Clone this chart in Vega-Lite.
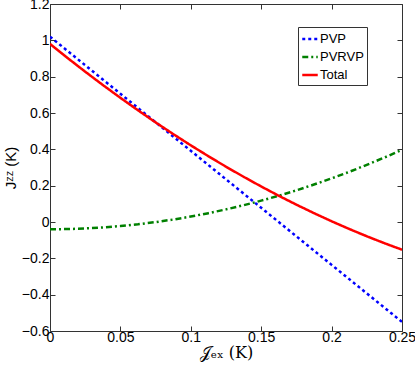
{
  "$schema": "https://vega.github.io/schema/vega-lite/v6.json",
  "width": 352,
  "height": 327,
  "autosize": "none",
  "padding": {"left": 50, "top": 4, "right": 13, "bottom": 34},
  "background": "white",
  "config": {
    "view": {"stroke": "#333333", "strokeWidth": 1},
    "font": "Liberation Sans",
    "axis": {"grid": false, "domain": false, "tickColor": "#333333", "labelColor": "black", "labelFont": "Liberation Sans", "labelFontSize": 14, "titleFontWeight": "normal", "titleColor": "black", "tickSize": -5}
  },
  "data": {"values": [
    {"x": 0, "s": "PVP", "y": 1.02}, {"x": 0, "s": "PVRVP", "y": -0.04}, {"x": 0, "s": "Total", "y": 0.98},
    {"x": 0.0125, "s": "PVP", "y": 0.9415}, {"x": 0.0125, "s": "PVRVP", "y": -0.0389}, {"x": 0.0125, "s": "Total", "y": 0.9026},
    {"x": 0.025, "s": "PVP", "y": 0.863}, {"x": 0.025, "s": "PVRVP", "y": -0.0356}, {"x": 0.025, "s": "Total", "y": 0.8274},
    {"x": 0.0375, "s": "PVP", "y": 0.7845}, {"x": 0.0375, "s": "PVRVP", "y": -0.0302}, {"x": 0.0375, "s": "Total", "y": 0.7543},
    {"x": 0.05, "s": "PVP", "y": 0.706}, {"x": 0.05, "s": "PVRVP", "y": -0.0225}, {"x": 0.05, "s": "Total", "y": 0.6835},
    {"x": 0.0625, "s": "PVP", "y": 0.6275}, {"x": 0.0625, "s": "PVRVP", "y": -0.0127}, {"x": 0.0625, "s": "Total", "y": 0.6148},
    {"x": 0.075, "s": "PVP", "y": 0.549}, {"x": 0.075, "s": "PVRVP", "y": -0.0006}, {"x": 0.075, "s": "Total", "y": 0.5484},
    {"x": 0.0875, "s": "PVP", "y": 0.4705}, {"x": 0.0875, "s": "PVRVP", "y": 0.0136}, {"x": 0.0875, "s": "Total", "y": 0.4841},
    {"x": 0.1, "s": "PVP", "y": 0.392}, {"x": 0.1, "s": "PVRVP", "y": 0.03}, {"x": 0.1, "s": "Total", "y": 0.422},
    {"x": 0.1125, "s": "PVP", "y": 0.3135}, {"x": 0.1125, "s": "PVRVP", "y": 0.0486}, {"x": 0.1125, "s": "Total", "y": 0.3621},
    {"x": 0.125, "s": "PVP", "y": 0.235}, {"x": 0.125, "s": "PVRVP", "y": 0.0694}, {"x": 0.125, "s": "Total", "y": 0.3044},
    {"x": 0.1375, "s": "PVP", "y": 0.1565}, {"x": 0.1375, "s": "PVRVP", "y": 0.0923}, {"x": 0.1375, "s": "Total", "y": 0.2488},
    {"x": 0.15, "s": "PVP", "y": 0.078}, {"x": 0.15, "s": "PVRVP", "y": 0.1175}, {"x": 0.15, "s": "Total", "y": 0.1955},
    {"x": 0.1625, "s": "PVP", "y": -0.0005}, {"x": 0.1625, "s": "PVRVP", "y": 0.1448}, {"x": 0.1625, "s": "Total", "y": 0.1443},
    {"x": 0.175, "s": "PVP", "y": -0.079}, {"x": 0.175, "s": "PVRVP", "y": 0.1744}, {"x": 0.175, "s": "Total", "y": 0.0954},
    {"x": 0.1875, "s": "PVP", "y": -0.1575}, {"x": 0.1875, "s": "PVRVP", "y": 0.2061}, {"x": 0.1875, "s": "Total", "y": 0.0486},
    {"x": 0.2, "s": "PVP", "y": -0.236}, {"x": 0.2, "s": "PVRVP", "y": 0.24}, {"x": 0.2, "s": "Total", "y": 0.004},
    {"x": 0.2125, "s": "PVP", "y": -0.3145}, {"x": 0.2125, "s": "PVRVP", "y": 0.2761}, {"x": 0.2125, "s": "Total", "y": -0.0384},
    {"x": 0.225, "s": "PVP", "y": -0.393}, {"x": 0.225, "s": "PVRVP", "y": 0.3144}, {"x": 0.225, "s": "Total", "y": -0.0786},
    {"x": 0.2375, "s": "PVP", "y": -0.4715}, {"x": 0.2375, "s": "PVRVP", "y": 0.3548}, {"x": 0.2375, "s": "Total", "y": -0.1167},
    {"x": 0.25, "s": "PVP", "y": -0.55}, {"x": 0.25, "s": "PVRVP", "y": 0.3975}, {"x": 0.25, "s": "Total", "y": -0.1525}
  ]},
  "layer": [
    {
      "mark": {"type": "line", "strokeWidth": 2.5, "clip": true},
      "encoding": {
        "x": {"field": "x", "type": "quantitative", "scale": {"domain": [0, 0.25], "nice": false, "zero": false},
          "axis": {"values": [0, 0.05, 0.1, 0.15, 0.2, 0.25], "format": "~g", "labelPadding": 4, "labelFlush": false, "title": "𝒥ₑₓ (K)", "titleFont": "DejaVu Serif", "titleFontSize": 16, "titlePadding": 0}},
        "y": {"field": "y", "type": "quantitative", "scale": {"domain": [-0.6, 1.2], "nice": false, "zero": false},
          "axis": {"values": [-0.6, -0.4, -0.2, 0, 0.2, 0.4, 0.6, 0.8, 1, 1.2], "format": "~g", "labelPadding": 6, "labelFlush": false, "title": "Jᶻᶻ (K)", "titleFont": "Liberation Sans", "titleFontSize": 15, "titlePadding": 3}},
        "color": {"field": "s", "type": "nominal", "scale": {"domain": ["PVP", "PVRVP", "Total"], "range": ["#0000ff", "#008000", "#ff0000"]},
          "legend": {"title": null, "orient": "none", "legendX": 248, "legendY": 23, "strokeColor": "#333333", "fillColor": "white", "padding": 3, "labelFontSize": 13, "labelFont": "Liberation Sans", "labelColor": "black", "symbolType": "stroke", "symbolSize": 240, "symbolStrokeWidth": 2.5, "rowPadding": 2, "labelOffset": 1}},
        "strokeDash": {"field": "s", "type": "nominal", "scale": {"domain": ["PVP", "PVRVP", "Total"], "range": [[3, 3], [6, 3, 2, 3], [1, 0]]}, "legend": null}
      }
    },
    {
      "mark": {"type": "point", "opacity": 0},
      "encoding": {
        "x": {"field": "x", "type": "quantitative", "axis": {"orient": "top", "values": [0, 0.05, 0.1, 0.15, 0.2, 0.25], "labels": false, "title": null}},
        "y": {"field": "y", "type": "quantitative", "axis": {"orient": "right", "values": [-0.6, -0.4, -0.2, 0, 0.2, 0.4, 0.6, 0.8, 1, 1.2], "labels": false, "title": null}}
      }
    }
  ],
  "resolve": {"axis": {"x": "independent", "y": "independent"}}
}
